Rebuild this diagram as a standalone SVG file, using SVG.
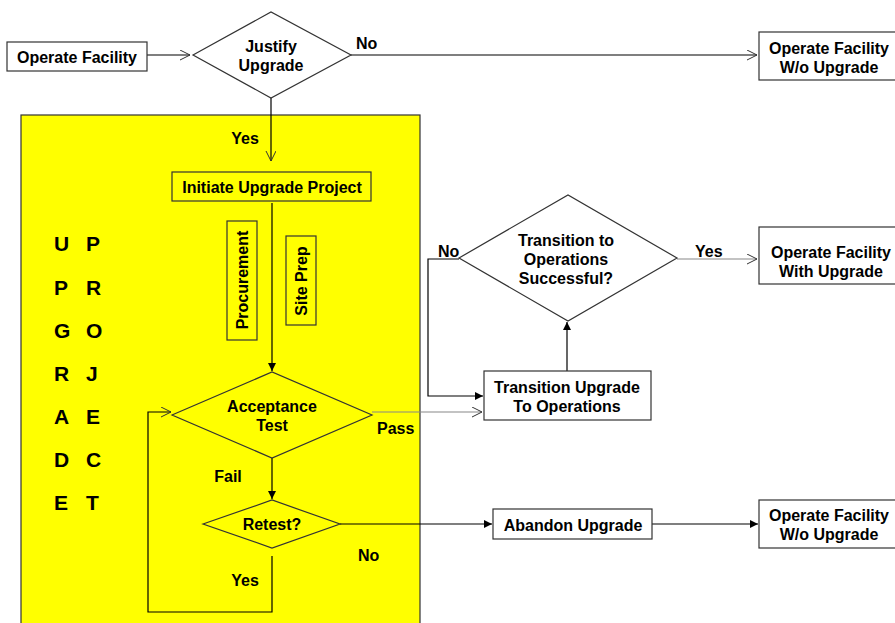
<svg xmlns="http://www.w3.org/2000/svg" width="895" height="623" viewBox="0 0 895 623">
<style>
text{font-family:"Liberation Sans",Arial,sans-serif;font-weight:bold;font-size:16px;fill:#000;text-anchor:middle}
.big{font-size:21px;text-anchor:start}
.lbl{text-anchor:start}
.box{fill:#fff;stroke:#333;stroke-width:1.2}
.ybox{fill:#ff0;stroke:#333;stroke-width:1.2}
.c{fill:none;stroke:#000;stroke-width:1.2}
.g{fill:none;stroke:#888;stroke-width:1.2}
</style>
<defs>
<marker id="open" markerWidth="12" markerHeight="12" refX="10" refY="5" orient="auto" markerUnits="userSpaceOnUse">
<path d="M0,0 L10,5 L0,10" fill="none" stroke="#333" stroke-width="1"/>
</marker>
<marker id="fill" markerWidth="10" markerHeight="10" refX="8" refY="4" orient="auto" markerUnits="userSpaceOnUse">
<path d="M0,0 L8,4 L0,8 Z" fill="#000"/>
</marker>
</defs>
<rect x="0" y="0" width="895" height="623" fill="#fff"/>
<g id="project-area">
<rect x="21" y="115" width="399" height="530" fill="#ff0" stroke="#333" stroke-width="1.2"/>
<text class="big" x="54" y="251">U</text><text class="big" x="86" y="251">P</text>
<text class="big" x="54" y="295">P</text><text class="big" x="86" y="295">R</text>
<text class="big" x="54" y="338">G</text><text class="big" x="86" y="338">O</text>
<text class="big" x="54" y="381">R</text><text class="big" x="86" y="381">J</text>
<text class="big" x="54" y="424">A</text><text class="big" x="86" y="424">E</text>
<text class="big" x="54" y="467">D</text><text class="big" x="86" y="467">C</text>
<text class="big" x="54" y="510">E</text><text class="big" x="86" y="510">T</text>
</g>
<g id="connectors">
<line class="c" x1="147" y1="55" x2="190" y2="55" marker-end="url(#open)"/>
<line class="c" x1="351" y1="55" x2="757" y2="55" stroke="#444" marker-end="url(#open)"/>
<line class="c" x1="271" y1="98" x2="271" y2="161" marker-end="url(#open)"/>
<line class="c" x1="272" y1="203" x2="272" y2="371" marker-end="url(#fill)"/>
<line class="g" x1="372" y1="412" x2="482" y2="412" marker-end="url(#open)"/>
<line class="c" x1="272" y1="458" x2="272" y2="499" marker-end="url(#fill)"/>
<line class="c" x1="340" y1="524" x2="492" y2="524" marker-end="url(#fill)"/>
<line class="c" x1="652" y1="524" x2="758" y2="524" marker-end="url(#fill)"/>
<polyline class="c" points="272,556 272,612 148,612 148,412 171,412" marker-end="url(#open)"/>
<line class="c" x1="567" y1="371" x2="567" y2="322" marker-end="url(#fill)"/>
<polyline class="c" points="459,259 428,259 428,396 483,396" marker-end="url(#fill)"/>
<line class="g" x1="677" y1="259" x2="757" y2="259" marker-end="url(#open)"/>
<text class="lbl" x="356" y="49">No</text>
<text x="245" y="144">Yes</text>
<text class="lbl" x="377" y="434">Pass</text>
<text x="228" y="482">Fail</text>
<text x="245" y="586">Yes</text>
<text class="lbl" x="358" y="561">No</text>
<text class="lbl" x="438" y="257">No</text>
<text class="lbl" x="695" y="257">Yes</text>
</g>
<g id="operate-facility">
<rect class="box" x="7" y="42" width="140" height="29"/>
<text x="77" y="63">Operate Facility</text>
</g>
<g id="justify-upgrade">
<polygon class="box" points="193,55 271,12 351,55 271,98"/>
<text x="271" y="52">Justify</text>
<text x="271" y="71">Upgrade</text>
</g>
<g id="operate-without-1">
<rect class="box" x="759" y="32" width="140" height="48"/>
<text x="829" y="54">Operate Facility</text>
<text x="829" y="73">W/o Upgrade</text>
</g>
<g id="initiate-upgrade">
<rect class="ybox" x="172" y="172" width="199" height="29"/>
<text x="272" y="193">Initiate Upgrade Project</text>
</g>
<g id="procurement">
<rect class="ybox" x="227" y="221" width="30" height="119"/>
<text transform="translate(248,280) rotate(-90)">Procurement</text>
</g>
<g id="site-prep">
<rect class="ybox" x="286" y="236" width="30" height="89"/>
<text transform="translate(307,281) rotate(-90)">Site Prep</text>
</g>
<g id="acceptance-test">
<polygon class="ybox" points="172,415 272,372 372,415 272,458"/>
<text x="272" y="412">Acceptance</text>
<text x="272" y="431">Test</text>
</g>
<g id="retest">
<polygon class="ybox" points="203,524 272,500 340,524 272,548"/>
<text x="272" y="530">Retest?</text>
</g>
<g id="transition-successful">
<polygon class="box" points="459,258 568,195 677,258 568,321"/>
<text x="566" y="246">Transition to</text>
<text x="566" y="265">Operations</text>
<text x="566" y="284">Successful?</text>
</g>
<g id="transition-upgrade">
<rect class="box" x="484" y="371" width="167" height="49"/>
<text x="567" y="393">Transition Upgrade</text>
<text x="567" y="412">To Operations</text>
</g>
<g id="operate-with-upgrade">
<rect class="box" x="759" y="227" width="140" height="57"/>
<text x="831" y="258">Operate Facility</text>
<text x="831" y="277">With Upgrade</text>
</g>
<g id="abandon-upgrade">
<rect class="box" x="493" y="509" width="159" height="30"/>
<text x="573" y="531">Abandon Upgrade</text>
</g>
<g id="operate-without-2">
<rect class="box" x="759" y="500" width="140" height="48"/>
<text x="829" y="521">Operate Facility</text>
<text x="829" y="540">W/o Upgrade</text>
</g>
</svg>
